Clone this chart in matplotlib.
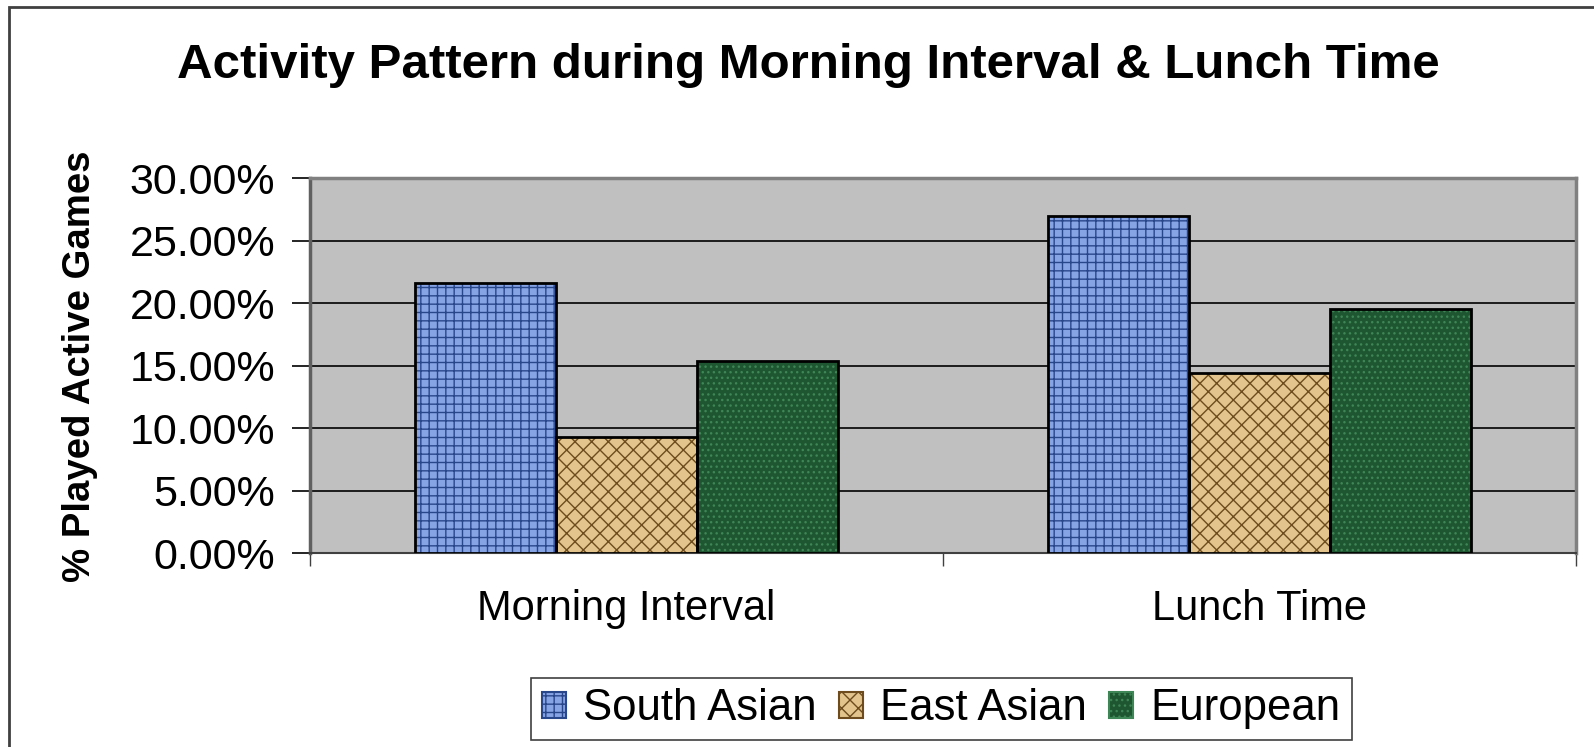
import matplotlib.pyplot as plt
from matplotlib.patches import Patch, Rectangle
from matplotlib.ticker import FuncFormatter

plt.rcParams['font.family'] = ['Liberation Sans', 'DejaVu Sans']
plt.rcParams['hatch.linewidth'] = 1.0

categories = ["Morning Interval", "Lunch Time"]
groups = ["South Asian", "East Asian", "European"]
south_asian = [21.6, 27.0]
east_asian = [9.3, 14.4]
european = [15.4, 19.5]
values = [south_asian, east_asian, european]

# face colour, hatch colour, hatch pattern for each group
faces = ["#86a4e4", "#e2c48c", "#1d5630"]
hatch_cols = ["#28468a", "#6e4c1e", "#3f8656"]
hatches = ["++", "xx", "..."]

fig = plt.figure(figsize=(15.94, 7.47), dpi=100)
ax = fig.add_axes([0.1945, 0.2597, 0.7942, 0.502])
ax.set_facecolor("#c0c0c0")

width = 0.2227
xs = list(range(len(categories)))
for k, name in enumerate(groups):
    pos = [x + (k - 1) * width for x in xs]
    ax.bar(pos, values[k], width, color=faces[k], hatch=hatches[k],
           edgecolor=hatch_cols[k], linewidth=0, zorder=3)
    ax.bar(pos, values[k], width, fill=False, edgecolor="black",
           linewidth=2, zorder=4)

ax.set_ylim(0, 30)
ax.set_xlim(-0.5, 1.5)
ax.set_yticks(range(0, 31, 5))
ax.yaxis.set_major_formatter(FuncFormatter(lambda v, p: f"{v:.2f}%"))
ax.grid(axis="y", color="black", linewidth=1.2, zorder=1)
ax.set_axisbelow(True)

ax.set_xticks(xs)
ax.set_xticklabels(categories)
ax.set_xticks([-0.5, 0.5, 1.5], minor=True)
ax.tick_params(axis="x", which="major", length=0, pad=26, labelsize=30)
ax.tick_params(axis="x", which="minor", length=9, width=1, color="#404040")
ax.tick_params(axis="y", length=13, width=1.2, pad=12, labelsize=31)

for side in ["top", "right"]:
    ax.spines[side].set_color("#808080")
    ax.spines[side].set_linewidth(2.5)
ax.spines["left"].set_color("#606060")
ax.spines["left"].set_linewidth(2.5)
ax.spines["bottom"].set_color("#404040")
ax.spines["bottom"].set_linewidth(1.5)

fig.text(0.507, 0.8956, "Activity Pattern during Morning Interval & Lunch Time",
         ha="center", va="baseline", fontsize=35.5, fontweight="bold")
fig.text(0.0503, 0.51, "% Played Active Games", rotation=90, ha="center",
         va="center", fontsize=27.6, fontweight="bold")

# legend swatches: hatched fill with a black outline
handles = []
for k in range(len(groups)):
    if hasattr(Patch, "set_hatchcolor"):
        h = Patch(facecolor=faces[k], hatch=hatches[k], edgecolor="black",
                  hatchcolor=hatch_cols[k], linewidth=1.5)
    else:
        h = Patch(facecolor=faces[k], hatch=hatches[k],
                  edgecolor=hatch_cols[k], linewidth=1.5)
    handles.append(h)
leg = fig.legend(handles, groups, loc="center", bbox_to_anchor=(0.5905, 0.0509),
                 ncol=3, fontsize=31.5, frameon=True, fancybox=False,
                 edgecolor="#404040", framealpha=1, handlelength=0.55,
                 handleheight=0.55, handletextpad=0.4, columnspacing=0.5,
                 borderpad=0.25, borderaxespad=0.3)
leg.get_frame().set_linewidth(1.2)

# outer chart border
fig.patches.append(Rectangle((9 / 1594, -0.05), 1.2, 1 - 7 / 747 + 0.05,
                             transform=fig.transFigure, fill=False,
                             edgecolor="#404040", linewidth=2))

fig.savefig("out.png", dpi=100)
